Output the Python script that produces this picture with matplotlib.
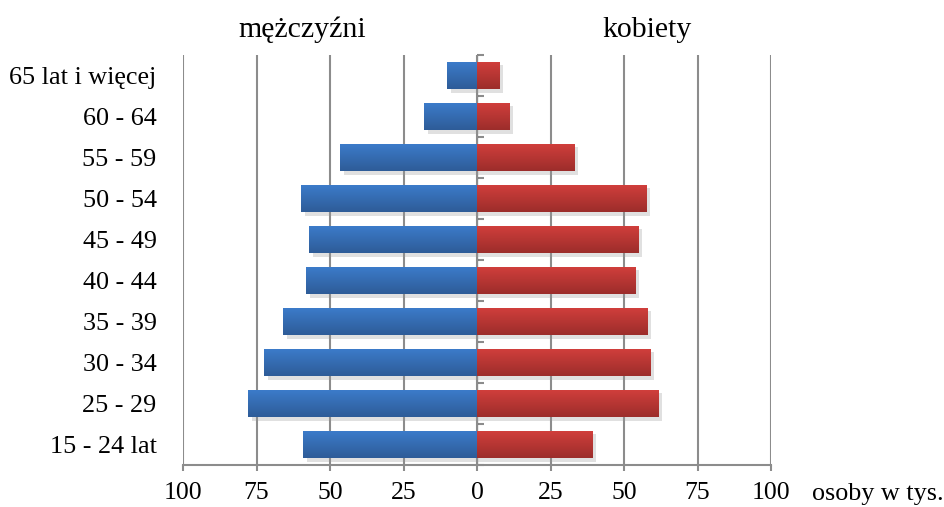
import numpy as np
import matplotlib
matplotlib.use('Agg')
import matplotlib.pyplot as plt
import matplotlib.patheffects as pe
from matplotlib.colors import LinearSegmentedColormap

plt.rcParams['font.family'] = ['Liberation Serif', 'DejaVu Serif']

# age groups, bottom to top
groups = ['15 - 24 lat', '25 - 29', '30 - 34', '35 - 39', '40 - 44',
          '45 - 49', '50 - 54', '55 - 59', '60 - 64', '65 lat i więcej']
men = [59.1, 77.8, 72.3, 65.9, 58.1, 57.0, 59.8, 46.5, 18.0, 10.2]
women = [39.4, 61.8, 59.1, 58.1, 54.0, 55.0, 57.7, 33.3, 10.9, 7.8]
xticks = [-100, -75, -50, -25, 0, 25, 50, 75, 100]

fig = plt.figure(figsize=(9.45, 5.07), dpi=100)
ax = fig.add_axes([0.1937, 0.0828, 0.6222, 0.8087])

y = np.arange(len(groups))
shadow = [pe.SimplePatchShadow(offset=(2.5, -2.5), shadow_rgbFace='#999999', alpha=0.3), pe.Normal()]
b1 = ax.barh(y, -np.array(men), height=0.68, color='#3572bf', zorder=3, path_effects=shadow)
b2 = ax.barh(y, women, height=0.68, color='#c23a38', zorder=3, path_effects=shadow)

# vertical gradient fill on each bar
cm_blue = LinearSegmentedColormap.from_list('b', ['#2e5c98', '#3c7ccb'])
cm_red = LinearSegmentedColormap.from_list('r', ['#9c2d2b', '#d23f3c'])
grad = np.linspace(0, 1, 50).reshape(-1, 1)
for bars, cm in [(b1, cm_blue), (b2, cm_red)]:
    for b in bars:
        x0, y0 = b.get_x(), b.get_y()
        w, h = b.get_width(), b.get_height()
        im = ax.imshow(grad, extent=[x0, x0 + w, y0, y0 + h], origin='lower',
                       aspect='auto', cmap=cm, zorder=4)
        im.set_clip_path(b)

ax.set_xlim(-100, 100)
ax.set_ylim(-0.5, len(groups) - 0.5)

ax.set_xticks(xticks)
ax.set_xticklabels([str(abs(t)) for t in xticks], fontsize=18.5)
ax.set_yticks(y)
ax.set_yticklabels(groups, fontsize=18.8)

for s in ['top', 'right', 'left']:
    ax.spines[s].set_visible(False)
ax.spines['bottom'].set_color('#8c8c8c')
ax.spines['bottom'].set_linewidth(1.5)
ax.tick_params(axis='x', direction='out', length=4.5, width=1.5, color='#8c8c8c', pad=8)
ax.tick_params(axis='y', length=0, pad=19)
ax.xaxis.grid(True, color='#8c8c8c', linewidth=1.5, zorder=1)
ax.set_axisbelow(True)

# zero axis with small ticks at category boundaries
sec = ax.secondary_yaxis(0.5)
sec.set_yticks(np.arange(len(groups) + 1) - 0.5)
sec.set_yticklabels([])
sec.tick_params(direction='out', length=5, width=1.5, color='#8c8c8c')
sec.spines['left'].set_color('#8c8c8c')
sec.spines['left'].set_linewidth(1.5)
sec.spines['left'].set_zorder(5)

fig.text(302 / 945, 1 - 37 / 507, 'mężczyźni', fontsize=21.5, ha='center', va='baseline')
fig.text(647 / 945, 1 - 37 / 507, 'kobiety', fontsize=21.5, ha='center', va='baseline')
fig.text(812 / 945, 1 - 500 / 507, 'osoby w tys.', fontsize=18.8, ha='left', va='baseline')

fig.savefig('out.png', dpi=100)
